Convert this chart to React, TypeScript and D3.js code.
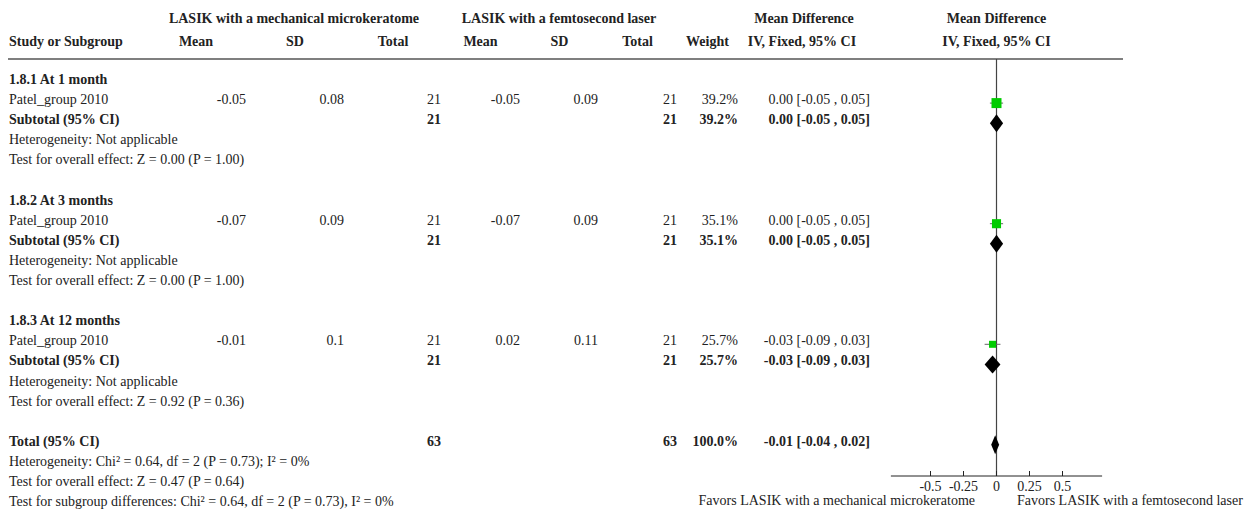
import React from "react";
import * as d3 from "d3";

// ---- data ----
const subgroupLabels = ["1.8.1 At 1 month", "1.8.2 At 3 months", "1.8.3 At 12 months"];
const studyNames = ["Patel_group 2010", "Patel_group 2010", "Patel_group 2010"];
const mechMean = [-0.05, -0.07, -0.01];
const mechSD = [0.08, 0.09, 0.1];
const mechN = [21, 21, 21];
const femtoMean = [-0.05, -0.07, 0.02];
const femtoSD = [0.09, 0.09, 0.11];
const femtoN = [21, 21, 21];
const weights = [39.2, 35.1, 25.7];
const md = [0.0, 0.0, -0.03];
const mdLo = [-0.05, -0.05, -0.09];
const mdHi = [0.05, 0.05, 0.03];
const subgroupZ = ["Z = 0.00 (P = 1.00)", "Z = 0.00 (P = 1.00)", "Z = 0.92 (P = 0.36)"];
const totalMech = 63;
const totalFemto = 63;
const totalWeight = 100.0;
const totalMD = [-0.01, -0.04, 0.02];
const totalHet = "Heterogeneity: Chi² = 0.64, df = 2 (P = 0.73); I² = 0%";
const totalZ = "Test for overall effect: Z = 0.47 (P = 0.64)";
const subgroupDiff = "Test for subgroup differences: Chi² = 0.64, df = 2 (P = 0.73), I² = 0%";
const tickValues = [-0.5, -0.25, 0, 0.25, 0.5];
const tickLabels = ["-0.5", "-0.25", "0", "0.25", "0.5"];
const favorsLeft = "Favors LASIK with a mechanical microkeratome";
const favorsRight = "Favors LASIK with a femtosecond laser";

const W = 1252;
const H = 514;
const FONT = "'Liberation Serif', 'Times New Roman', serif";
const FS = 14;

const fmtCI = (m: number, lo: number, hi: number) =>
  `${m.toFixed(2)} [${lo.toFixed(2)} , ${hi.toFixed(2)}]`;

export default function App() {
  const x = d3.scaleLinear().domain([-0.8, 0.8]).range([890.9, 1102.1]);
  const sq = d3.scaleLinear().domain([25.7, 39.2]).range([7, 10]);
  const rowY = (i: number) => 84 + i * 20.1;

  // column right edges
  const col = { mMean: 246, mSD: 344, mTot: 441, fMean: 520, fSD: 598, fTot: 677, wt: 738, ci: 870 };
  const zeroX = x(0);
  const axisY = 476;

  const txt = (
    key: string,
    s: string,
    xx: number,
    yy: number,
    anchor: "start" | "middle" | "end" = "start",
    bold = false
  ) => (
    <text key={key} x={xx} y={yy} textAnchor={anchor} fontWeight={bold ? "bold" : "normal"}>
      {s}
    </text>
  );

  const items: React.ReactNode[] = [];

  subgroupLabels.forEach((lab, g) => {
    const base = g * 6;
    const y0 = rowY(base);
    const y1 = rowY(base + 1);
    const y2 = rowY(base + 2);
    const y3 = rowY(base + 3);
    const y4 = rowY(base + 4);
    items.push(txt(`sg${g}`, lab, 9, y0, "start", true));
    items.push(txt(`st${g}`, studyNames[g], 9, y1));
    items.push(txt(`mm${g}`, String(mechMean[g]), col.mMean, y1, "end"));
    items.push(txt(`ms${g}`, String(mechSD[g]), col.mSD, y1, "end"));
    items.push(txt(`mn${g}`, String(mechN[g]), col.mTot, y1, "end"));
    items.push(txt(`fm${g}`, String(femtoMean[g]), col.fMean, y1, "end"));
    items.push(txt(`fs${g}`, String(femtoSD[g]), col.fSD, y1, "end"));
    items.push(txt(`fn${g}`, String(femtoN[g]), col.fTot, y1, "end"));
    items.push(txt(`w${g}`, `${weights[g].toFixed(1)}%`, col.wt, y1, "end"));
    items.push(txt(`ci${g}`, fmtCI(md[g], mdLo[g], mdHi[g]), col.ci, y1, "end"));
    // subtotal
    items.push(txt(`sub${g}`, "Subtotal (95% CI)", 9, y2, "start", true));
    items.push(txt(`smn${g}`, String(mechN[g]), col.mTot, y2, "end", true));
    items.push(txt(`sfn${g}`, String(femtoN[g]), col.fTot, y2, "end", true));
    items.push(txt(`sw${g}`, `${weights[g].toFixed(1)}%`, col.wt, y2, "end", true));
    items.push(txt(`sci${g}`, fmtCI(md[g], mdLo[g], mdHi[g]), col.ci, y2, "end", true));
    items.push(txt(`het${g}`, "Heterogeneity: Not applicable", 9, y3));
    items.push(txt(`z${g}`, `Test for overall effect: ${subgroupZ[g]}`, 9, y4));

    // marks
    const cy = y1 - 1;
    const s = sq(weights[g]);
    items.push(
      <line key={`cil${g}`} x1={x(mdLo[g])} x2={x(mdHi[g])} y1={cy} y2={cy} stroke="#666" strokeWidth={1} />
    );
    items.push(
      <rect key={`sq${g}`} x={x(md[g]) - s / 2} y={cy - s / 2} width={s} height={s} fill="#00cc00" />
    );
    const dy = y2 - 1;
    items.push(
      <path
        key={`dm${g}`}
        d={`M${x(mdLo[g])},${dy} L${x(md[g])},${dy - 9} L${x(mdHi[g])},${dy} L${x(md[g])},${dy + 9} Z`}
        fill="#000"
      />
    );
  });

  const yt = rowY(18);
  items.push(txt("tot", "Total (95% CI)", 9, yt, "start", true));
  items.push(txt("totm", String(totalMech), col.mTot, yt, "end", true));
  items.push(txt("totf", String(totalFemto), col.fTot, yt, "end", true));
  items.push(txt("totw", `${totalWeight.toFixed(1)}%`, col.wt, yt, "end", true));
  items.push(txt("totci", fmtCI(totalMD[0], totalMD[1], totalMD[2]), col.ci, yt, "end", true));
  items.push(txt("tothet", totalHet, 9, rowY(19)));
  items.push(txt("totz", totalZ, 9, rowY(20)));
  items.push(txt("subdiff", subgroupDiff, 9, rowY(21)));
  const tdy = yt - 1;
  items.push(
    <path
      key="tdm"
      d={`M${x(totalMD[1])},${tdy} L${x(totalMD[0])},${tdy - 9.5} L${x(totalMD[2])},${tdy} L${x(totalMD[0])},${tdy + 9.5} Z`}
      fill="#000"
    />
  );

  return (
    <svg
      width={W}
      height={H}
      style={{ position: "absolute", left: 0, top: 0, background: "#fff" }}
      fontFamily={FONT}
      fontSize={FS}
      fill="#222"
    >
      {/* headers */}
      <g fontWeight="bold">
        <text x={294} y={23} textAnchor="middle">LASIK with a mechanical microkeratome</text>
        <text x={559} y={23} textAnchor="middle">LASIK with a femtosecond laser</text>
        <text x={804} y={23} textAnchor="middle">Mean Difference</text>
        <text x={996.5} y={23} textAnchor="middle">Mean Difference</text>
        <text x={9} y={46}>Study or Subgroup</text>
        <text x={196} y={46} textAnchor="middle">Mean</text>
        <text x={295} y={46} textAnchor="middle">SD</text>
        <text x={393} y={46} textAnchor="middle">Total</text>
        <text x={480.5} y={46} textAnchor="middle">Mean</text>
        <text x={559.5} y={46} textAnchor="middle">SD</text>
        <text x={637.5} y={46} textAnchor="middle">Total</text>
        <text x={707.5} y={46} textAnchor="middle">Weight</text>
        <text x={802} y={46} textAnchor="middle">IV, Fixed, 95% CI</text>
        <text x={996.5} y={46} textAnchor="middle">IV, Fixed, 95% CI</text>
      </g>
      <line x1={8} x2={1123} y1={59} y2={59} stroke="#555" strokeWidth={1.5} />
      <line x1={zeroX} x2={zeroX} y1={59} y2={axisY} stroke="#444" strokeWidth={1.2} />
      {items}
      {/* axis */}
      <line x1={x.range()[0]} x2={x.range()[1]} y1={axisY} y2={axisY} stroke="#222" strokeWidth={1} />
      {tickValues.map((v, i) => (
        <g key={`t${i}`}>
          <line x1={x(v)} x2={x(v)} y1={axisY - 5} y2={axisY} stroke="#222" strokeWidth={1} />
          <text x={x(v)} y={491} textAnchor="middle">{tickLabels[i]}</text>
        </g>
      ))}
      <text x={975} y={505} textAnchor="end">{favorsLeft}</text>
      <text x={1017} y={505} textAnchor="start">{favorsRight}</text>
    </svg>
  );
}
